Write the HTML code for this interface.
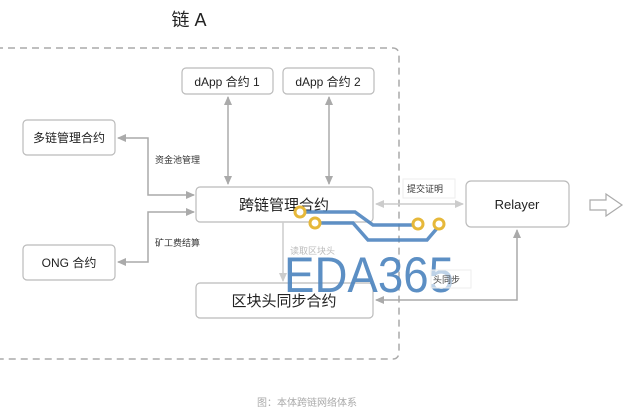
<!DOCTYPE html>
<html><head><meta charset="utf-8"><style>
html,body{margin:0;padding:0;background:#fff;}
svg{display:block;font-family:"Liberation Sans","Noto Sans CJK SC",sans-serif;}
</style></head><body>
<svg width="633" height="415" viewBox="0 0 633 415" xmlns="http://www.w3.org/2000/svg">
<defs>
<marker id="a" markerWidth="10" markerHeight="10" refX="8" refY="5" orient="auto-start-reverse" markerUnits="userSpaceOnUse">
<path d="M0,1 L9,5 L0,9 Z" fill="#aaa"/></marker>
<marker id="b" markerWidth="10" markerHeight="10" refX="8" refY="5" orient="auto-start-reverse" markerUnits="userSpaceOnUse">
<path d="M0,1 L9,5 L0,9 Z" fill="#ccc"/></marker>
</defs>
<text x="189" y="26" font-size="18" text-anchor="middle" fill="#222">链 A</text>
<rect x="-10" y="48" width="409" height="311" rx="6" fill="none" stroke="#aaa" stroke-width="1.5" stroke-dasharray="7,5"/>
<g fill="#fff" stroke="#bbb" stroke-width="1.2">
<rect x="182" y="68" width="91" height="26" rx="4"/>
<rect x="283" y="68" width="91" height="26" rx="4"/>
<rect x="23" y="120" width="92" height="35" rx="4"/>
<rect x="23" y="245" width="92" height="35" rx="4"/>
<rect x="196" y="187" width="177" height="35" rx="4"/>
<rect x="196" y="283" width="177" height="35" rx="4"/>
<rect x="466" y="181" width="103" height="46" rx="5"/>
</g>
<g fill="#222" text-anchor="middle">
<text x="227" y="86" font-size="12">dApp 合约 1</text>
<text x="328" y="86" font-size="12">dApp 合约 2</text>
<text x="69" y="142" font-size="12">多链管理合约</text>
<text x="69" y="267" font-size="12">ONG 合约</text>
<text x="284" y="210" font-size="15">跨链管理合约</text>
<text x="284" y="306" font-size="15">区块头同步合约</text>
<text x="517" y="209" font-size="13">Relayer</text>
</g>
<g stroke="#aaa" stroke-width="1.5" fill="none">
<line x1="228" y1="97" x2="228" y2="184" marker-start="url(#a)" marker-end="url(#a)"/>
<line x1="329" y1="97" x2="329" y2="184" marker-start="url(#a)" marker-end="url(#a)"/>
<polyline points="118,138 148,138 148,195 194,195" marker-start="url(#a)" marker-end="url(#a)"/>
<polyline points="118,262 148,262 148,212 194,212" marker-start="url(#a)" marker-end="url(#a)"/>
<polyline points="517,230 517,300 376,300" marker-start="url(#a)" marker-end="url(#a)"/>
</g>
<g stroke="#ccc" stroke-width="1.5" fill="none">
<line x1="283" y1="222" x2="283" y2="281" marker-end="url(#b)"/>
<line x1="376" y1="204" x2="463" y2="204" marker-start="url(#b)" marker-end="url(#b)"/>
</g>
<g font-size="9" fill="#333">
<text x="155" y="163">资金池管理</text>
<text x="155" y="246">矿工费结算</text>
</g>
<rect x="403" y="179" width="52" height="19" fill="#fff" stroke="#eee"/>
<text x="407" y="192" font-size="9" fill="#333">提交证明</text>
<text x="290" y="254" font-size="9" fill="#bbb">读取区块头</text>
<path d="M590,200 L606,200 L606,194 L622,205 L606,216 L606,210 L590,210 Z" fill="#fff" stroke="#aaa" stroke-width="1.2"/>
<g stroke="#4f86c0" stroke-width="3.5" fill="none" opacity="0.9">
<polyline points="300,212 355,212 373,225 418,225"/>
<polyline points="315,223 353,223 368,240 427,240 439,226"/>
</g>
<g fill="#fff" stroke="#e6b83a" stroke-width="3">
<circle cx="300" cy="212" r="5"/><circle cx="315" cy="223" r="5"/>
<circle cx="418" cy="224" r="5"/><circle cx="439" cy="224" r="5"/>
</g>
<text x="284" y="292" font-size="50" fill="#4f86c0" opacity="0.92" textLength="170" lengthAdjust="spacingAndGlyphs">EDA365</text>
<rect x="431" y="270" width="40" height="18" fill="#fff" fill-opacity="0.6" stroke="#eee"/>
<text x="433" y="283" font-size="9" fill="#444">头同步</text>
<text x="307" y="406" font-size="10" fill="#aaa" text-anchor="middle">图：本体跨链网络体系</text>
</svg>
</body></html>
